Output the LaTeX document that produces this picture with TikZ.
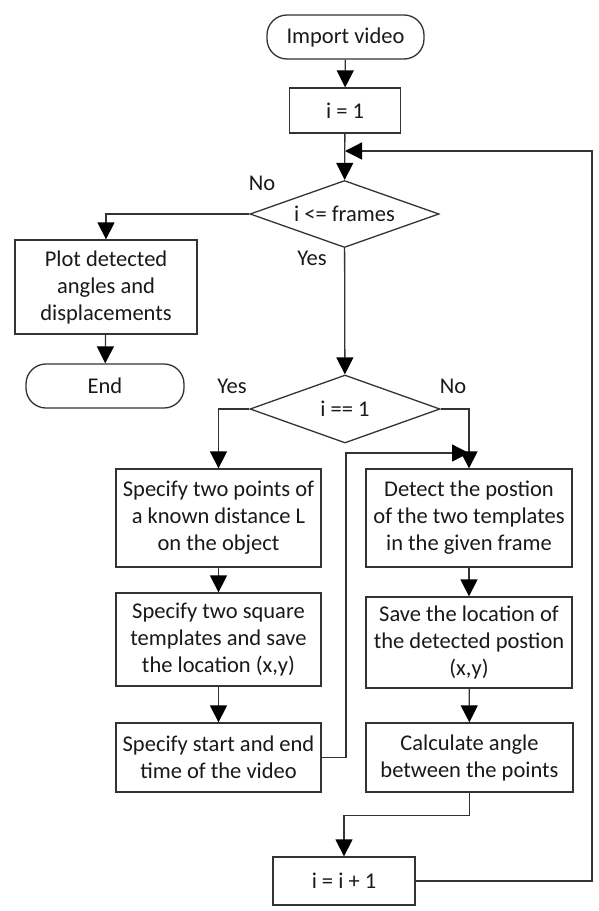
\documentclass[tikz,border=0pt]{standalone}
\usepackage{fontspec}
\setmainfont{Carlito}
\usetikzlibrary{arrows.meta,shapes.geometric}

\tikzset{
  flow/.style={line width=1.3pt,draw=black!80},
  arr/.style={flow,-{Triangle[width=17pt,length=17pt,fill=black,color=black]}},
  proc/.style={flow,rectangle,align=center,inner sep=2pt,text=black!90},
  term/.style={flow,rectangle,rounded corners=20pt,align=center,text=black!90},
  dec/.style={flow,diamond,aspect=2.8,inner sep=0pt,text=black!90},
  lab/.style={text=black!90}
}

\begin{document}
\begin{tikzpicture}[x=1pt,y=-1pt,font=\fontsize{22.5}{27}\selectfont]
\useasboundingbox (0,0) rectangle (598,911);
% nodes
\node[term,minimum width=157pt,minimum height=44pt] (start) at (345.5,37) {Import video};
\node[proc,minimum width=111pt,minimum height=45pt] (init) at (345,110.5) {i = 1};
\node[dec,minimum width=189pt,minimum height=67pt] (cond) at (344.5,214) {i <= frames};
\node[proc,minimum width=182pt,minimum height=94pt] (plot) at (106,287) {Plot detected\\angles and\\displacements};
\node[term,minimum width=158pt,minimum height=44pt] (stop) at (105,386) {End};
\node[dec,minimum width=190pt,minimum height=68pt] (first) at (345,409) {i == 1};
\node[proc,minimum width=205pt,minimum height=98pt] (pick) at (218.5,518) {Specify two points of\\a known distance L\\on the object};
\node[proc,minimum width=205pt,minimum height=93pt] (tmpl) at (218.5,639.5) {Specify two square\\templates and save\\the location (x,y)};
\node[proc,minimum width=205pt,minimum height=69pt] (span) at (218.5,757.5) {Specify start and end\\time of the video};
\node[proc,minimum width=206pt,minimum height=98pt] (detect) at (469,518) {Detect the postion\\of the two templates\\in the given frame};
\node[proc,minimum width=206pt,minimum height=91pt] (save) at (469,642.5) {Save the location of\\the detected postion\\(x,y)};
\node[proc,minimum width=207pt,minimum height=69pt] (calc) at (469.5,757.5) {Calculate angle\\between the points};
\node[proc,minimum width=142pt,minimum height=48pt] (incr) at (344,881) {i = i + 1};
\coordinate (join) at (345,151);
\coordinate (back) at (592,151);
\coordinate (merge) at (469,453);
\coordinate (up) at (346,453);
% labels
\node[lab] (no1) at (262,183) {No};
\node[lab] (yes1) at (312,258) {Yes};
\node[lab] (yes2) at (232,386) {Yes};
\node[lab] (no2) at (453,386) {No};
% connectors
\draw[arr] (start) -- (init);
\draw[arr] (init) -- (cond);
\draw[arr] (cond.west) -| (plot.north);
\draw[arr] (plot) -- (stop);
\draw[arr] (cond) -- (first);
\draw[arr] (first.west) -| (pick.north);
\draw[arr] (first.east) -| (detect.north);
\draw[arr] (pick) -- (tmpl);
\draw[arr] (tmpl) -- (span);
\draw[arr] (span.east) -| (up) -- (merge);
\draw[arr] (detect) -- (save);
\draw[arr] (save) -- (calc);
\draw[arr] (calc.south) -- ++(0,23) -| (incr.north);
\draw[arr] (incr.east) -| (back) -- (join);
\end{tikzpicture}
\end{document}
